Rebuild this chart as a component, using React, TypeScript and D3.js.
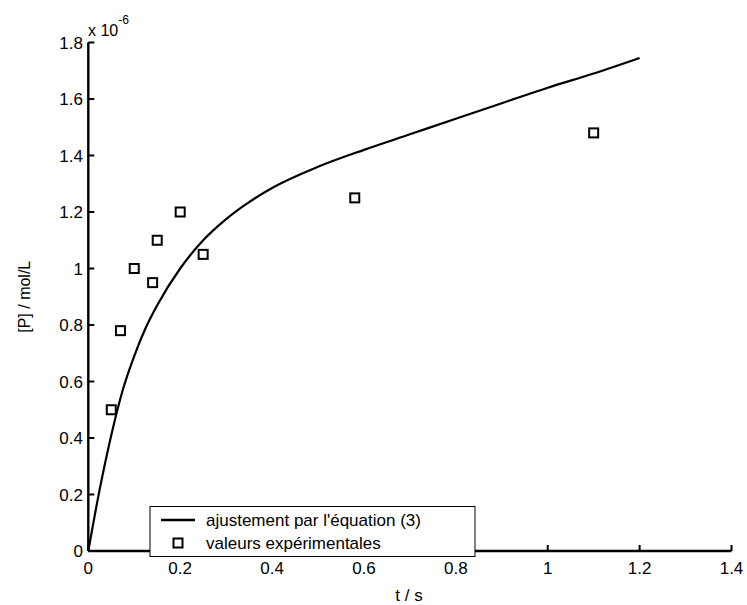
import React from "react";
import * as d3 from "d3";

// Experimental product concentration [P] (×10^-6 mol/L) vs time t (s)
const expT = [0.05, 0.07, 0.1, 0.14, 0.15, 0.2, 0.25, 0.58, 1.1];
const expP = [0.5, 0.78, 1.0, 0.95, 1.1, 1.2, 1.05, 1.25, 1.48];

// Fitted curve from equation (3)
const fitT = [0, 0.025, 0.05, 0.075, 0.1, 0.125, 0.15, 0.2, 0.25, 0.3, 0.35, 0.4, 0.5, 0.6, 0.7, 0.8, 0.9, 1.0, 1.1, 1.2];
const fitP = [0, 0.22, 0.41, 0.57, 0.69, 0.79, 0.87, 1.0, 1.1, 1.175, 1.235, 1.285, 1.36, 1.42, 1.475, 1.53, 1.585, 1.64, 1.69, 1.745];

const xTicks = [0, 0.2, 0.4, 0.6, 0.8, 1, 1.2, 1.4];
const yTicks = [0, 0.2, 0.4, 0.6, 0.8, 1, 1.2, 1.4, 1.6, 1.8];

const legendLabels = ["ajustement par l'équation (3)", "valeurs expérimentales"];

const W = 747;
const H = 605;
const FONT = "Arial, 'Liberation Sans', Helvetica, sans-serif";

export default function App() {
  const x = d3.scaleLinear().domain([0, 1.4]).range([88.3, 731.5]);
  const y = d3.scaleLinear().domain([0, 1.8]).range([551, 42.5]);

  const line = d3
    .line<number>()
    .x((_, i) => x(fitT[i]))
    .y((d) => y(d))
    .curve(d3.curveMonotoneX);

  const fmt = (v: number) => String(v);
  const m = 4.5; // half-size of the square markers

  return (
    <svg
      width={W}
      height={H}
      style={{ position: "absolute", left: 0, top: 0, background: "#fff" }}
      fontFamily={FONT}
    >
      <rect x={0} y={0} width={W} height={H} fill="#fff" />

      {/* fitted curve */}
      <path d={line(fitP) ?? ""} fill="none" stroke="#000" strokeWidth={2.2} />

      {/* experimental points */}
      {expT.map((t, i) => (
        <rect
          key={i}
          x={x(t) - m}
          y={y(expP[i]) - m}
          width={2 * m}
          height={2 * m}
          fill="#fff"
          stroke="#000"
          strokeWidth={2}
        />
      ))}

      {/* axes */}
      <line x1={x(0)} x2={x(1.4)} y1={y(0)} y2={y(0)} stroke="#000" strokeWidth={2.4} />
      <line x1={x(0)} x2={x(0)} y1={y(0)} y2={y(1.8)} stroke="#000" strokeWidth={2.4} />

      {xTicks.map((t) => (
        <g key={"x" + t}>
          <line x1={x(t)} x2={x(t)} y1={y(0)} y2={y(0) - 6} stroke="#000" strokeWidth={2} />
          <text x={x(t)} y={574} fontSize={17} textAnchor="middle">
            {fmt(t)}
          </text>
        </g>
      ))}
      {yTicks.map((v) => (
        <g key={"y" + v}>
          <line x1={x(0)} x2={x(0) + 6} y1={y(v)} y2={y(v)} stroke="#000" strokeWidth={2} />
          <text x={83} y={y(v) + 6} fontSize={17} textAnchor="end">
            {fmt(v)}
          </text>
        </g>
      ))}

      {/* exponent */}
      <text x={88} y={36} fontSize={16}>
        x 10
        <tspan dy={-12} fontSize={12}>
          -6
        </tspan>
      </text>

      {/* axis titles */}
      <text x={409} y={601} fontSize={17} textAnchor="middle">
        t / s
      </text>
      <text
        transform={`translate(30, ${(y(0) + y(1.8)) / 2}) rotate(-90)`}
        fontSize={16}
        textAnchor="middle"
      >
        [P] / mol/L
      </text>

      {/* legend */}
      <g>
        <rect x={150} y={506.5} width={325} height={50} fill="#fff" stroke="#000" strokeWidth={1} />
        <line x1={161} x2={195} y1={520} y2={520} stroke="#000" strokeWidth={2.4} />
        <text x={206} y={526} fontSize={17}>
          {legendLabels[0]}
        </text>
        <rect x={178 - m} y={543 - m} width={2 * m} height={2 * m} fill="#fff" stroke="#000" strokeWidth={2} />
        <text x={206} y={549} fontSize={17}>
          {legendLabels[1]}
        </text>
      </g>
    </svg>
  );
}
